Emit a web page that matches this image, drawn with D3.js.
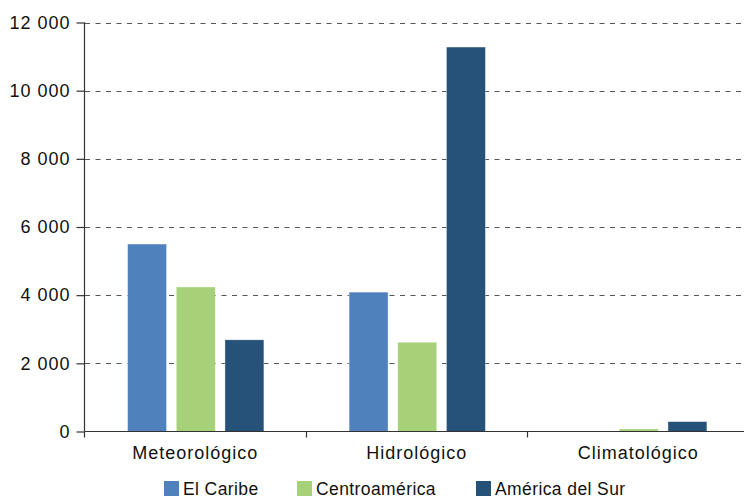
<!DOCTYPE html>
<html>
<head>
<meta charset="utf-8">
<script src="https://d3js.org/d3.v7.min.js"></script>
<style>
  body { margin: 0; background: white; }
  svg { display: block; font-family: 'Liberation Sans', Arial, sans-serif; }
</style>
</head>
<body>
<div class="chart"></div>
<script>
const categories = ["Meteorológico", "Hidrológico", "Climatológico"];
const seriesNames = ["El Caribe", "Centroamérica", "América del Sur"];
const caribe = [5500, 4090, 0];
const centro = [4240, 2620, 75];
const sur = [2690, 11280, 290];
const yTicks = [0, 2000, 4000, 6000, 8000, 10000, 12000];
const colors = ["#4f81bd", "#a6d179", "#26527a"];

const series = [caribe, centro, sur];
const w = 744, h = 500;
const mLeft = 85, mRight = 749.5, mTop = 22.5, mBottom = 431.5;

const svg = d3.select(".chart").append("svg")
  .attr("width", w).attr("height", h);

const x = d3.scaleBand().domain(categories).range([mLeft, mRight]);
const xInner = d3.scaleBand().domain(seriesNames).range([0, x.bandwidth()])
  .paddingInner(0.2).paddingOuter(0.875);
const y = d3.scaleLinear().domain([0, 12000]).range([mBottom, mTop]);

const fmt = d => d3.format(",")(d).replace(/,/g, " ");

// gridlines
svg.append("g").selectAll("line")
  .data(yTicks.filter(d => d > 0))
  .enter().append("line")
  .attr("x1", mLeft).attr("x2", 742)
  .attr("y1", d => Math.round(y(d)) + 0.5).attr("y2", d => Math.round(y(d)) + 0.5)
  .attr("stroke", "#555").attr("stroke-dasharray", "5,5.5");

// bars
series.forEach((vals, si) => {
  svg.append("g").selectAll("rect")
    .data(vals)
    .enter().append("rect")
    .attr("x", (d, i) => x(categories[i]) + xInner(seriesNames[si]))
    .attr("width", xInner.bandwidth())
    .attr("y", d => y(d))
    .attr("height", d => mBottom - y(d))
    .attr("fill", colors[si])
    .attr("stroke", "#fff").attr("stroke-width", 0.6)
    .attr("stroke-opacity", 0.6);
});

// y axis
const yAxis = svg.append("g")
  .attr("transform", `translate(${mLeft - 0.5},0)`)
  .call(d3.axisLeft(y).tickValues(yTicks).tickFormat(fmt).tickSize(8).tickPadding(6));
yAxis.selectAll("text").attr("font-size", 18).attr("fill", "#111")
  .attr("letter-spacing", 1)
  .attr("font-family", "'Liberation Sans', Arial, sans-serif");
yAxis.selectAll("line, path").attr("stroke", "#333").attr("stroke-width", 1.2);
yAxis.select(".domain").attr("d", `M0,${mTop}V${mBottom}`);

// x axis
const xAxis = svg.append("g")
  .attr("transform", `translate(0,${mBottom})`);
xAxis.append("line").attr("x1", mLeft).attr("x2", w)
  .attr("stroke", "#333").attr("stroke-width", 1.2);
xAxis.selectAll("line.tick")
  .data([mLeft, x("Hidrológico"), x("Climatológico")])
  .enter().append("line").attr("class", "tick")
  .attr("x1", d => Math.round(d) - 0.5).attr("x2", d => Math.round(d) - 0.5)
  .attr("y1", 0).attr("y2", 6)
  .attr("stroke", "#333").attr("stroke-width", 1.2);
xAxis.selectAll("text")
  .data(categories)
  .enter().append("text")
  .attr("x", d => x(d) + x.bandwidth() / 2 - 0.5)
  .attr("y", 27.5)
  .attr("text-anchor", "middle")
  .attr("font-size", 18).attr("letter-spacing", 1).attr("fill", "#111")
  .text(d => d);

// legend
const legendX = [164, 297, 476];
const legend = svg.append("g").selectAll("g")
  .data(seriesNames)
  .enter().append("g")
  .attr("transform", (d, i) => `translate(${legendX[i]},481)`);
legend.append("rect").attr("width", 15).attr("height", 15)
  .attr("fill", (d, i) => colors[i]);
legend.append("text").attr("x", 19).attr("y", 14)
  .attr("font-size", 17.5).attr("letter-spacing", 0.4).attr("fill", "#111")
  .text(d => d);
</script>
</body>
</html>
